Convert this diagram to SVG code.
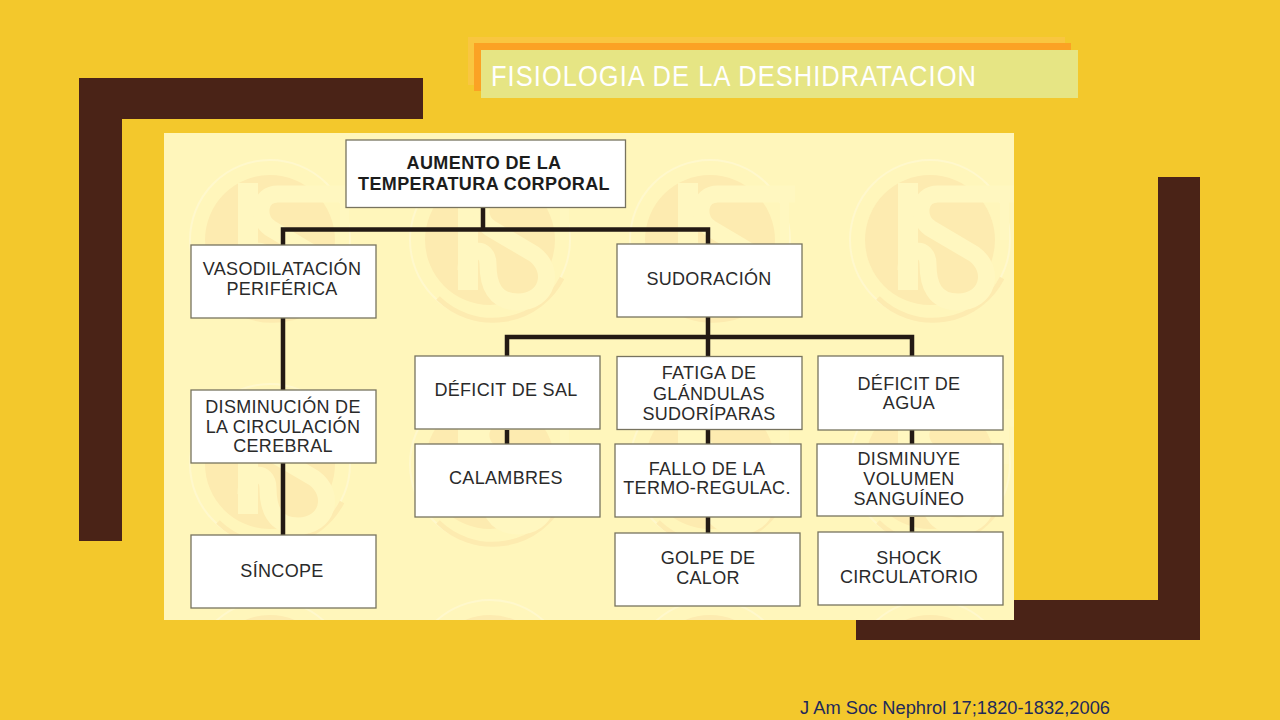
<svg xmlns="http://www.w3.org/2000/svg" width="1280" height="720" viewBox="0 0 1280 720">
<style>
.n{fill:#fff;stroke:#77735f;stroke-width:1.3}
.t{font-family:"Liberation Sans",Arial,sans-serif;font-size:18px;fill:#2a2a2a;text-anchor:middle;letter-spacing:.32px}
.b{font-weight:bold;fill:#1c1c1c;letter-spacing:.4px}
.c{fill:none;stroke:#231a14;stroke-width:4.5}
.d{fill:#fdebb0}
.r{fill:none;stroke:#fdebb0;stroke-width:5}
.f{fill:none;stroke:#fff8cc;stroke-width:2}
.h{fill:none;stroke:#fff7c0;stroke-width:17}
.s{fill:#fff7c0}
</style>
<defs>
<clipPath id="pc"><rect x="164" y="133" width="850" height="487"/></clipPath>
<g id="logo">
<circle r="80" class="f"/>
<circle r="65" class="d"/>
<path class="r" d="M-52 58A78 78 0 0 0 72 38"/>
<path class="s" d="M-32-57h20V50h-20z"/>
<path class="h" d="M85-46H8C-12-46-14-22 0-12L44 14C66 30 58 62 28 62C4 62-2 44-2 24C-2 6-24 6-24 30"/>
<path class="s" d="M70-48h9V0h-9z"/>
</g>
</defs>
<rect width="1280" height="720" fill="#f3c82c"/>
<g id="frames" fill="#4a2317">
<path d="M79 78h344v41H122v422H79z"/>
<path d="M1158 177h42v463H856v-40h302z"/>
</g>
<g id="title">
<rect x="468" y="37" width="597" height="48" fill="#f9c640"/>
<rect x="474" y="43" width="597" height="48" fill="#fba224"/>
<rect x="481" y="50" width="597" height="48" fill="#e6e584"/>
<text x="491" y="86" font-family="'Liberation Sans',Arial,sans-serif" font-size="29" letter-spacing="1.2" fill="#fff" textLength="486" lengthAdjust="spacingAndGlyphs">FISIOLOGIA DE LA DESHIDRATACION</text>
</g>
<rect id="panel" x="164" y="133" width="850" height="487" fill="#fff6bb"/>
<g id="watermarks" clip-path="url(#pc)">
<use href="#logo" x="270" y="240"/>
<use href="#logo" x="490" y="240"/>
<use href="#logo" x="710" y="240"/>
<use href="#logo" x="930" y="240"/>
<use href="#logo" x="270" y="464"/>
<use href="#logo" x="490" y="464"/>
<use href="#logo" x="710" y="464"/>
<use href="#logo" x="930" y="464"/>
<use href="#logo" x="270" y="680"/>
<use href="#logo" x="490" y="680"/>
<use href="#logo" x="710" y="680"/>
<use href="#logo" x="930" y="680"/>
</g>
<g id="connectors" class="c">
<path d="M483 208V229M283 245V229.500H708V245"/>
<path d="M283 318V536"/>
<path d="M708 317V356M507 356V337H912V356"/>
<path d="M507 430V444"/>
<path d="M708 430V444M708 517V533"/>
<path d="M912 430V444M912 517V532"/>
</g>
<g id="n1"><rect class="n" x="346" y="140" width="279.500" height="67.500"/><text class="t b" x="484" y="169">AUMENTO DE LA</text><text class="t b" x="484" y="190">TEMPERATURA CORPORAL</text></g>
<g id="n2"><rect class="n" x="191" y="245" width="185" height="73"/><text class="t" x="282" y="275">VASODILATACIÓN</text><text class="t" x="282" y="295">PERIFÉRICA</text></g>
<g id="n3"><rect class="n" x="617" y="244" width="185" height="73"/><text class="t" x="709" y="285">SUDORACIÓN</text></g>
<g id="n4"><rect class="n" x="191" y="390" width="185" height="73"/><text class="t" x="283" y="413">DISMINUCIÓN DE</text><text class="t" x="283" y="433">LA CIRCULACIÓN</text><text class="t" x="283" y="452">CEREBRAL</text></g>
<g id="n5"><rect class="n" x="191" y="535" width="185" height="73"/><text class="t" x="282" y="577">SÍNCOPE</text></g>
<g id="n6"><rect class="n" x="415" y="356" width="185" height="73"/><text class="t" x="506" y="396">DÉFICIT DE SAL</text></g>
<g id="n7"><rect class="n" x="415" y="444" width="185" height="73"/><text class="t" x="506" y="484">CALAMBRES</text></g>
<g id="n8"><rect class="n" x="617" y="356.500" width="185" height="73"/><text class="t" x="709" y="379">FATIGA DE</text><text class="t" x="709" y="400">GLÁNDULAS</text><text class="t" x="709" y="420">SUDORÍPARAS</text></g>
<g id="n9"><rect class="n" x="615" y="444" width="186" height="73"/><text class="t" x="707" y="475">FALLO DE LA</text><text class="t" x="707" y="494">TERMO-REGULAC.</text></g>
<g id="n10"><rect class="n" x="615" y="533" width="185" height="73"/><text class="t" x="708" y="564">GOLPE DE</text><text class="t" x="708" y="584">CALOR</text></g>
<g id="n11"><rect class="n" x="818" y="356" width="185" height="74"/><text class="t" x="909" y="390">DÉFICIT DE</text><text class="t" x="909" y="409">AGUA</text></g>
<g id="n12"><rect class="n" x="817" y="444" width="186" height="72"/><text class="t" x="909" y="465">DISMINUYE</text><text class="t" x="909" y="485">VOLUMEN</text><text class="t" x="909" y="505">SANGUÍNEO</text></g>
<g id="n13"><rect class="n" x="818" y="532" width="185" height="73"/><text class="t" x="909" y="564">SHOCK</text><text class="t" x="909" y="583">CIRCULATORIO</text></g>
<text id="ref" x="800" y="714" font-family="'Liberation Sans',Arial,sans-serif" font-size="18" fill="#1f2a5a" textLength="310" lengthAdjust="spacingAndGlyphs">J Am Soc Nephrol 17;1820-1832,2006</text>
</svg>
